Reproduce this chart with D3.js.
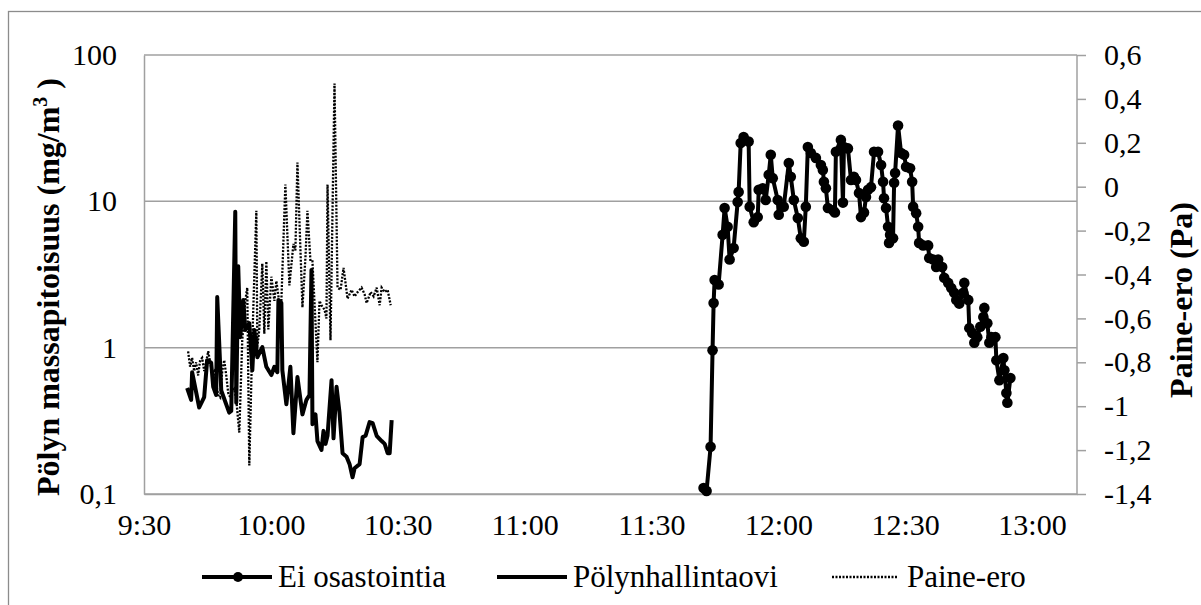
<!DOCTYPE html>
<html>
<head>
<meta charset="utf-8">
<script src="https://cdn.jsdelivr.net/npm/d3@7"></script>
<style>
  body { margin: 0; background: #fff; }
  svg { display: block; font-family: "Liberation Serif", "Times New Roman", serif; }
</style>
</head>
<body>
<svg width="1201" height="605"></svg>
<script>
// Ei osastointia (mg/m3), left log axis
var eiOsastointia = [
  ["11:42:19",0.11],["11:43:02",0.105],["11:43:59",0.21],["11:44:27",0.96],["11:44:42",2.02],["11:44:56",2.9],
  ["11:45:53",2.7],["11:46:50",5.9],["11:47:18",9.0],["11:48:01",6.7],["11:48:29",4.0],["11:49:26",4.8],
  ["11:50:23",9.9],["11:50:37",11.6],["11:51:06",25],["11:51:48",27.5],["11:52:59",25.6],["11:53:14",9.2],
  ["11:54:11",7.2],["11:55:08",7.8],["11:55:22",12.0],["11:56:19",12.3],["11:57:01",10.2],["11:57:44",15.2],
  ["11:58:13",20.8],["11:58:41",14.4],["11:59:52",10.2],["12:00:06",8.1],["12:01:17",9.2],["12:02:29",18.3],
  ["12:02:57",14.7],["12:03:40",10.2],["12:04:37",7.7],["12:05:19",5.6],["12:06:02",5.3],["12:06:30",9.2],
  ["12:06:59",23.5],["12:07:42",21.4],["12:08:53",19.8],["12:10:04",17.7],["12:10:32",16.4],["12:10:47",13.6],
  ["12:11:15",12.3],["12:11:44",9.0],["12:12:55",8.7],["12:13:23",8.4],["12:13:37",21.8],["12:14:48",26.3],
  ["12:15:17",9.8],["12:15:31",23.5],["12:16:28",23.0],["12:17:11",14.0],["12:17:53",14.7],["12:18:22",14.0],
  ["12:19:05",11.4],["12:19:33",7.8],["12:20:16",8.4],["12:20:44",10.7],["12:21:13",12.0],["12:21:55",12.5],
  ["12:22:38",21.8],["12:23:35",21.8],["12:24:18",17.7],["12:24:46",13.6],["12:25:00",10.5],["12:25:29",9.0],
  ["12:25:57",6.7],["12:26:11",5.2],["12:26:26",5.9],["12:27:08",5.6],["12:27:23",13.4],["12:27:37",15.6],
  ["12:28:19",33],["12:29:02",21.4],["12:29:45",20.8],["12:30:13",17.2],["12:31:10",16.8],["12:31:39",13.6],
  ["12:31:53",9.2],["12:32:36",8.3],["12:33:04",6.7],["12:33:18",5.2],["12:34:15",5.0],["12:35:26",5.0],
  ["12:35:41",4.1],["12:36:37",4.0],["12:37:20",3.56],["12:37:48",4.0],["12:38:45",3.56],["12:39:14",3.0],
  ["12:40:11",2.77],["12:40:54",2.56],["12:41:36",2.37],["12:42:05",2.12],["12:42:47",2.0],["12:43:44",2.37],
  ["12:43:59",2.77],["12:44:55",2.12],["12:45:10",1.36],["12:45:52",1.26],["12:46:21",1.08],["12:47:03",1.18],
  ["12:47:46",1.39],["12:48:29",1.62],["12:48:43",1.87],["12:49:26",1.47],["12:49:54",1.08],["12:50:23",1.18],
  ["12:51:20",1.18],["12:51:34",0.82],["12:52:17",0.60],["12:53:13",0.85],["12:53:28",0.70],["12:53:56",0.49],
  ["12:54:10",0.42],["12:54:53",0.62]
];

// Pölynhallintaovi (mg/m3), left log axis
var polynhallintaovi = [
  ["9:40:12",0.53],["9:41:09",0.44],["9:41:23",0.68],["9:43:03",0.39],["9:44:14",0.46],["9:44:56",0.82],
  ["9:45:53",0.79],["9:46:22",0.54],["9:47:04",0.475],["9:47:19",2.22],["9:48:16",0.51],["9:50:09",0.36],
  ["9:50:38",0.37],["9:51:35",8.5],["9:51:49",0.42],["9:52:17",3.6],["9:52:46",1.18],["9:53:29",2.12],
  ["9:53:57",1.32],["9:54:54",1.47],["9:55:37",0.70],["9:56:05",1.32],["9:56:48",0.86],["9:57:59",1.01],
  ["9:58:56",0.74],["10:00:07",0.65],["10:00:50",0.74],["10:01:32",0.68],["10:01:47",2.12],["10:02:29",2.02],
  ["10:02:43",0.70],["10:03:40",0.41],["10:04:37",0.74],["10:05:20",0.26],["10:06:17",0.63],["10:07:28",0.35],
  ["10:08:25",0.44],["10:09:08",0.475],["10:09:36",3.4],["10:09:50",0.30],["10:10:33",0.35],["10:11:01",0.23],
  ["10:11:58",0.20],["10:12:27",0.27],["10:12:55",0.22],["10:13:24",0.25],["10:14:21",0.60],["10:14:49",0.24],
  ["10:15:32",0.54],["10:16:14",0.36],["10:16:57",0.19],["10:17:54",0.18],["10:18:37",0.16],["10:19:19",0.13],
  ["10:19:48",0.15],["10:20:59",0.16],["10:21:42",0.245],["10:22:24",0.25],["10:23:21",0.31],["10:24:04",0.305],
  ["10:25:01",0.25],["10:26:12",0.23],["10:26:55",0.22],["10:27:37",0.19],["10:28:06",0.19],["10:28:34",0.32]
];

// Paine-ero (Pa), right axis
var paineEro = [
  ["9:40:26",-0.75],["9:40:54",-0.82],["9:41:23",-0.78],["9:41:51",-0.84],["9:42:20",-0.80],["9:42:48",-0.86],
  ["9:43:17",-0.79],["9:43:45",-0.78],["9:44:14",-0.84],["9:44:42",-0.80],["9:45:11",-0.75],["9:45:39",-0.80],
  ["9:46:08",-0.85],["9:46:36",-0.84],["9:47:04",-0.90],["9:47:33",-0.95],["9:48:01",-0.96],["9:48:30",-0.84],
  ["9:48:58",-0.79],["9:49:27",-0.86],["9:49:55",-0.94],["9:50:24",-0.96],["9:50:52",-0.93],["9:51:21",-0.92],
  ["9:51:49",-0.97],["9:52:32",-1.12],["9:53:14",-0.70],["9:53:57",-0.52],["9:54:25",-0.46],["9:54:54",-1.27],
  ["9:55:37",-0.70],["9:56:34",-0.11],["9:56:48",-0.73],["9:57:16",-0.65],["9:57:59",-0.35],["9:58:27",-0.67],
  ["9:58:56",-0.34],["9:59:24",-0.65],["10:00:07",-0.41],["10:00:50",-0.52],["10:01:18",-0.43],["10:02:01",-0.53],
  ["10:02:29",-0.52],["10:03:26",0.01],["10:04:23",-0.45],["10:05:20",-0.26],["10:05:48",-0.29],["10:06:17",0.11],
  ["10:07:28",-0.55],["10:08:11",-0.32],["10:08:39",-0.11],["10:09:22",-0.34],["10:09:50",-0.34],["10:11:01",-0.80],
  ["10:11:30",-0.52],["10:11:58",-0.54],["10:12:41",-0.56],["10:13:09",-0.60],["10:13:24",0.01],["10:14:06",-0.70],
  ["10:15:03",0.47],["10:15:46",-0.46],["10:16:29",-0.47],["10:17:11",-0.37],["10:17:40",-0.44],["10:18:08",-0.51],
  ["10:19:05",-0.47],["10:19:48",-0.50],["10:20:31",-0.48],["10:21:27",-0.46],["10:22:10",-0.49],["10:22:39",-0.53],
  ["10:23:36",-0.48],["10:24:18",-0.50],["10:25:01",-0.46],["10:25:44",-0.54],["10:26:12",-0.46],["10:26:55",-0.48],
  ["10:27:37",-0.47],["10:28:20",-0.54]
];

var xTicks = ["9:30:00","10:00:00","10:30:00","11:00:00","11:30:00","12:00:00","12:30:00","13:00:00"];
var yLeftTicks = [0.1, 1, 10, 100];
var yRightTicks = [-1.4, -1.2, -1, -0.8, -0.6, -0.4, -0.2, 0, 0.2, 0.4, 0.6];
var legendNames = ["Ei osastointia", "Pölynhallintaovi", "Paine-ero"];

var parseTime = d3.timeParse("%H:%M:%S");
var fi = d3.formatLocale({decimal: ",", thousands: " ", grouping: [3], currency: ["", "€"], minus: "-"});
var fmt = function(d) { return fi.format("~g")(d); };

var svg = d3.select("svg"),
    plot = {left: 144, right: 1077, top: 55, bottom: 494},
    grid = "#a0a0a0",
    serif = "Liberation Serif, Times New Roman, serif";

var x = d3.scaleTime()
    .domain([parseTime("9:30:00"), parseTime("13:10:38")])
    .range([plot.left, plot.right]);
var y = d3.scaleLog().domain([0.1, 100]).range([plot.bottom, plot.top]);
var y2 = d3.scaleLinear().domain([-1.4, 0.6]).range([plot.bottom, plot.top]);

// chart frame (right and bottom edges fall just outside the picture)
svg.append("rect")
    .attr("x", 8.5).attr("y", 11.5)
    .attr("width", 1195).attr("height", 596)
    .attr("fill", "none").attr("stroke", "#8c8c8c").attr("stroke-width", 1.3);

// gridlines
svg.append("g").selectAll("line")
    .data(yLeftTicks)
  .enter().append("line")
    .attr("x1", plot.left).attr("x2", plot.right)
    .attr("y1", function(d) { return y(d); })
    .attr("y2", function(d) { return y(d); })
    .attr("stroke", grid).attr("stroke-width", 1.5);

// left axis
var yAxis = d3.axisLeft(y).tickValues(yLeftTicks).tickSize(0).tickPadding(27).tickFormat(fmt);
svg.append("g")
    .attr("class", "axis")
    .attr("transform", "translate(" + plot.left + ",0)")
    .call(yAxis);

// right axis
var yAxis2 = d3.axisRight(y2).tickValues(yRightTicks).tickSize(9).tickPadding(18).tickFormat(fmt);
svg.append("g")
    .attr("class", "axis axis--right")
    .attr("transform", "translate(" + plot.right + ",0)")
    .call(yAxis2);

// bottom axis
var xAxis = d3.axisBottom(x)
    .tickValues(xTicks.map(parseTime))
    .tickSize(0).tickPadding(20)
    .tickFormat(d3.timeFormat("%-H:%M"));
svg.append("g")
    .attr("class", "axis axis--x")
    .attr("transform", "translate(0," + plot.bottom + ")")
    .call(xAxis);

svg.selectAll(".axis").attr("font-family", serif);
svg.selectAll(".axis .domain").attr("stroke", grid).attr("stroke-width", 1.5);
svg.selectAll(".axis .tick line").attr("stroke", grid).attr("stroke-width", 1.5);
svg.selectAll(".axis text").attr("font-size", 30).attr("fill", "#000");
svg.selectAll(".axis--right .domain").attr("d", "M0," + plot.top + "V" + plot.bottom);

// axis titles
var leftTitle = svg.append("text")
    .attr("transform", "translate(59,287) rotate(-90)")
    .attr("text-anchor", "middle")
    .attr("font-size", 32).attr("font-weight", "bold");
leftTitle.append("tspan").text("Pölyn massapitoisuus (mg/m");
leftTitle.append("tspan").attr("dy", -12).attr("font-size", 20).text("3");
leftTitle.append("tspan").attr("dy", 12).text(" )");

svg.append("text")
    .attr("transform", "translate(1192,300) rotate(-90)")
    .attr("text-anchor", "middle")
    .attr("font-size", 32).attr("font-weight", "bold")
    .text("Paine-ero (Pa)");

// series
var lineLeft = d3.line()
    .x(function(d) { return x(parseTime(d[0])); })
    .y(function(d) { return y(d[1]); });
var lineRight = d3.line()
    .x(function(d) { return x(parseTime(d[0])); })
    .y(function(d) { return y2(d[1]); });

svg.append("path")
    .datum(paineEro)
    .attr("fill", "none").attr("stroke", "#000")
    .attr("stroke-width", 2.3).attr("stroke-dasharray", "2,1.5")
    .attr("d", lineRight);

svg.append("path")
    .datum(polynhallintaovi)
    .attr("fill", "none").attr("stroke", "#000")
    .attr("stroke-width", 4).attr("stroke-linejoin", "round")
    .attr("d", lineLeft);

svg.append("path")
    .datum(eiOsastointia)
    .attr("fill", "none").attr("stroke", "#000")
    .attr("stroke-width", 4).attr("stroke-linejoin", "round")
    .attr("d", lineLeft);

svg.append("g").selectAll("circle")
    .data(eiOsastointia)
  .enter().append("circle")
    .attr("cx", function(d) { return x(parseTime(d[0])); })
    .attr("cy", function(d) { return y(d[1]); })
    .attr("r", 5.3).attr("fill", "#000");

// legend
var legendX = [202, 497, 832],
    legendY = 577;
var legend = svg.append("g").selectAll("g")
    .data(legendNames)
  .enter().append("g")
    .attr("transform", function(d, i) { return "translate(" + legendX[i] + "," + legendY + ")"; });

legend.append("line")
    .attr("x1", 0).attr("x2", function(d, i) { return i == 2 ? 66 : 70; })
    .attr("stroke", "#000")
    .attr("stroke-width", function(d, i) { return i == 2 ? 2.3 : 4; })
    .attr("stroke-dasharray", function(d, i) { return i == 2 ? "2,1.5" : null; });
legend.filter(function(d, i) { return i == 0; }).append("circle")
    .attr("cx", 36).attr("r", 5).attr("fill", "#000");
legend.append("text")
    .attr("x", function(d, i) { return i == 2 ? 75 : 76; })
    .attr("dy", "0.33em")
    .attr("font-size", 31)
    .text(function(d) { return d; });
</script>
</body>
</html>
